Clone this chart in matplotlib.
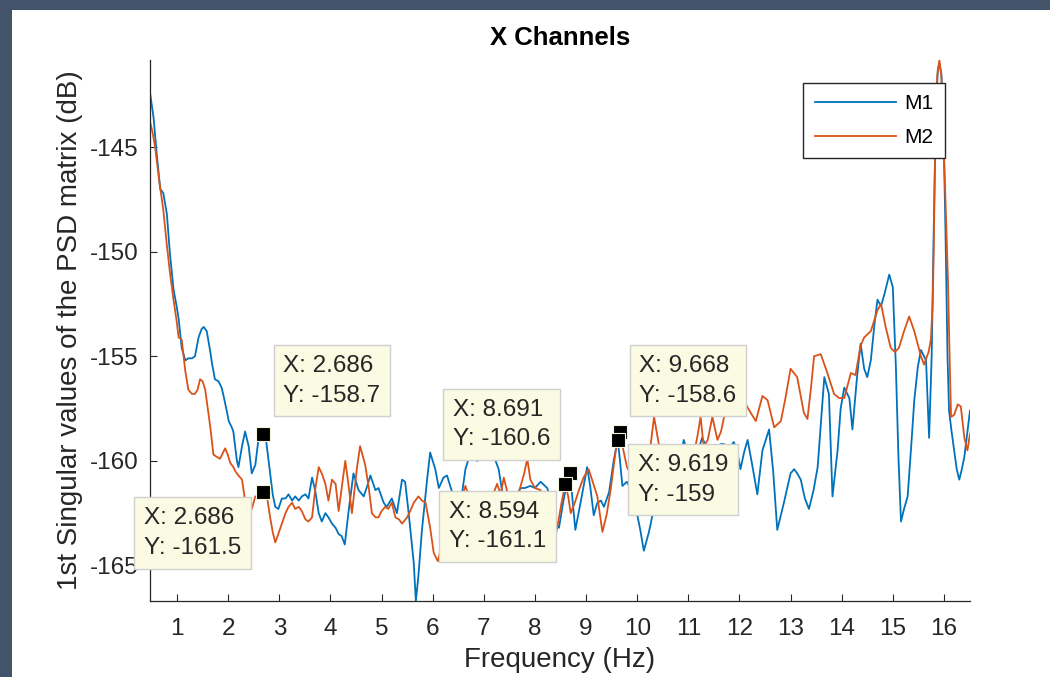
import matplotlib
matplotlib.use("Agg")
import matplotlib.pyplot as plt
from matplotlib.patches import Rectangle

plt.rcParams['font.family'] = ['Liberation Sans', 'DejaVu Sans']
plt.rcParams['axes.unicode_minus'] = False

# M1 (blue) - first singular value
m1_freq = [
    0.47, 0.54, 0.60, 0.67, 0.73, 0.80, 0.86, 0.93, 0.99, 1.03,
    1.09, 1.16, 1.22, 1.29, 1.35, 1.42, 1.48, 1.52, 1.58, 1.65,
    1.68, 1.74, 1.81, 1.87, 1.91, 1.97, 2.01, 2.07, 2.10, 2.14,
    2.17, 2.20, 2.27, 2.33, 2.40, 2.46, 2.53, 2.59, 2.64, 2.686,
    2.74, 2.82, 2.87, 2.92, 2.98, 3.05, 3.12, 3.18, 3.25, 3.31,
    3.38, 3.44, 3.51, 3.57, 3.64, 3.70, 3.77, 3.83, 3.90, 3.96,
    4.03, 4.10, 4.16, 4.22, 4.28, 4.35, 4.45, 4.55, 4.65, 4.72,
    4.78, 4.88, 4.94, 5.04, 5.10, 5.20, 5.30, 5.40, 5.46, 5.53,
    5.63, 5.67, 5.72, 5.79, 5.89, 5.95, 6.05, 6.12, 6.21, 6.28,
    6.38, 6.48, 6.56, 6.64, 6.74, 6.80, 6.87, 6.93, 7.00, 7.10,
    7.20, 7.29, 7.36, 7.42, 7.55, 7.65, 7.72, 7.80, 7.91, 8.00,
    8.11, 8.24, 8.30, 8.40, 8.47, 8.55, 8.63, 8.691, 8.74, 8.79,
    8.90, 9.02, 9.08, 9.15, 9.22, 9.29, 9.35, 9.45, 9.54, 9.619,
    9.66, 9.71, 9.80, 9.88, 9.97, 10.06, 10.13, 10.23, 10.35, 10.45,
    10.55, 10.64, 10.72, 10.85, 10.91, 11.01, 11.10, 11.18, 11.27, 11.33,
    11.40, 11.50, 11.57, 11.63, 11.70, 11.76, 11.83, 11.89, 11.96, 12.02,
    12.09, 12.16, 12.25, 12.35, 12.45, 12.58, 12.66, 12.74, 12.87, 13.00,
    13.07, 13.13, 13.20, 13.28, 13.36, 13.45, 13.53, 13.60, 13.66, 13.75,
    13.82, 13.92, 13.98, 14.05, 14.15, 14.21, 14.30, 14.37, 14.44, 14.50,
    14.57, 14.64, 14.70, 14.77, 14.84, 14.93, 15.00, 15.06, 15.11, 15.16,
    15.22, 15.29, 15.36, 15.42, 15.49, 15.55, 15.65, 15.71, 15.76, 15.80,
    15.84, 15.88, 15.91, 15.95, 15.99, 16.03, 16.07, 16.10, 16.15, 16.20,
    16.25, 16.30, 16.35, 16.40, 16.46, 16.51]
m1_db = [
    -142.4, -143.6, -145.3, -147.0, -147.2, -148.2, -150.1, -151.8, -152.6, -153.2,
    -154.6, -155.2, -155.1, -155.1, -155.0, -154.1, -153.7, -153.6, -153.8, -154.8,
    -155.3, -156.1, -156.2, -156.5, -156.9, -157.6, -158.1, -158.4, -158.6, -159.4,
    -160.0, -160.3, -159.3, -158.6, -159.3, -160.6, -160.2, -159.0, -158.8, -158.7,
    -159.0, -160.6, -161.6, -162.2, -162.3, -161.8, -161.8, -161.6, -161.9, -161.7,
    -161.9, -161.7, -161.6, -161.8, -160.8, -161.4, -162.5, -162.9, -162.5, -162.7,
    -163.0, -163.2, -163.5, -163.6, -164.0, -162.5, -160.6, -161.4, -161.7, -161.2,
    -160.7, -161.4, -161.3, -162.0, -162.2, -161.8, -162.5, -160.9, -161.0, -162.5,
    -164.9, -166.7, -165.5, -163.3, -160.9, -159.6, -160.4, -161.3, -160.8, -160.7,
    -161.5, -162.1, -161.8, -160.4, -159.6, -159.9, -160.0, -159.9, -159.7, -159.9,
    -159.8, -160.4, -161.5, -161.9, -162.1, -161.6, -161.3, -161.3, -161.2, -161.3,
    -161.0, -161.3, -161.8, -162.9, -163.2, -162.0, -161.0, -160.6, -162.0, -163.3,
    -161.9, -160.3, -161.2, -162.6, -162.0, -161.9, -162.2, -161.5, -160.0, -159.0,
    -159.9, -161.2, -161.0, -161.4, -162.2, -163.3, -164.3, -163.4, -162.0, -160.8,
    -160.6, -161.3, -161.5, -159.8, -159.0, -159.8, -160.2, -159.6, -158.9, -159.2,
    -159.4, -159.3, -159.4, -159.2, -159.2, -159.4, -159.3, -159.1, -159.6, -160.4,
    -159.6, -159.0, -160.2, -161.6, -159.5, -158.5, -160.5, -163.3, -162.0, -160.6,
    -160.4, -160.6, -160.9, -161.8, -162.3, -161.4, -160.3, -158.0, -156.0, -156.8,
    -161.7, -159.5, -157.5, -156.5, -157.0, -158.5, -156.0, -154.4, -155.6, -156.0,
    -155.2, -153.5, -152.3, -152.6, -152.0, -151.1, -151.7, -155.5, -159.8, -162.9,
    -162.3, -161.7, -159.3, -157.1, -155.5, -154.7, -155.2, -158.9, -155.0, -149.0,
    -143.5, -141.3, -141.0, -141.5, -144.0, -149.0, -155.0, -157.6, -158.6, -159.5,
    -160.4, -160.9, -160.4, -159.8, -158.6, -157.6]

# M2 (orange)
m2_freq = [
    0.47, 0.52, 0.57, 0.65, 0.73, 0.80, 0.86, 0.93, 0.99, 1.03,
    1.09, 1.16, 1.22, 1.29, 1.35, 1.40, 1.45, 1.50, 1.55, 1.60,
    1.65, 1.71, 1.77, 1.84, 1.90, 1.94, 1.99, 2.04, 2.10, 2.14,
    2.20, 2.27, 2.33, 2.40, 2.46, 2.53, 2.59, 2.625, 2.686, 2.72,
    2.77, 2.82, 2.87, 2.92, 2.98, 3.05, 3.12, 3.18, 3.25, 3.31,
    3.38, 3.44, 3.51, 3.57, 3.64, 3.70, 3.77, 3.83, 3.90, 3.96,
    4.03, 4.10, 4.16, 4.22, 4.29, 4.35, 4.42, 4.52, 4.58, 4.68,
    4.75, 4.81, 4.88, 4.94, 5.00, 5.07, 5.13, 5.20, 5.27, 5.34,
    5.40, 5.50, 5.56, 5.63, 5.72, 5.79, 5.86, 5.95, 6.02, 6.10,
    6.20, 6.30, 6.40, 6.50, 6.56, 6.64, 6.72, 6.82, 6.95, 7.05,
    7.15, 7.26, 7.33, 7.39, 7.47, 7.55, 7.65, 7.72, 7.79, 7.85,
    7.91, 8.00, 8.11, 8.20, 8.30, 8.37, 8.45, 8.52, 8.594, 8.65,
    8.70, 8.78, 8.86, 8.95, 9.05, 9.13, 9.22, 9.32, 9.40, 9.48,
    9.58, 9.668, 9.73, 9.80, 9.93, 10.05, 10.15, 10.25, 10.33, 10.43,
    10.52, 10.65, 10.80, 10.95, 11.10, 11.18, 11.24, 11.30, 11.38, 11.47,
    11.57, 11.64, 11.70, 11.80, 11.95, 12.10, 12.22, 12.32, 12.45, 12.55,
    12.68, 12.81, 12.90, 13.00, 13.13, 13.26, 13.33, 13.40, 13.46, 13.59,
    13.72, 13.85, 13.95, 14.05, 14.18, 14.27, 14.37, 14.44, 14.57, 14.70,
    14.77, 14.86, 14.96, 15.04, 15.12, 15.22, 15.32, 15.42, 15.55, 15.61,
    15.70, 15.745, 15.78, 15.80, 15.83, 15.87, 15.91, 15.95, 15.99, 16.03,
    16.08, 16.12, 16.14, 16.20, 16.27, 16.33, 16.40, 16.46, 16.51]
m2_db = [
    -143.8, -144.3, -145.0, -146.6, -148.0, -149.7, -151.0, -152.3, -153.3, -154.1,
    -154.2, -155.7, -156.6, -156.8, -156.8, -156.6, -156.1, -156.2, -156.6, -157.5,
    -158.4, -159.7, -159.8, -159.9, -159.6, -159.4, -159.7, -160.1, -160.3, -160.5,
    -160.7, -160.9, -161.9, -162.0, -162.3, -161.7, -161.7, -161.6, -161.5, -161.4,
    -161.9, -162.7, -163.4, -163.9, -163.5, -163.0, -162.5, -162.2, -162.0, -162.3,
    -162.2, -162.4, -162.8, -162.9, -162.7, -161.4, -160.3, -160.6, -161.1, -161.9,
    -160.9, -161.1, -162.4, -161.3, -160.0, -161.1, -162.5, -160.3, -159.3, -160.2,
    -161.3, -162.5, -162.7, -162.7, -162.4, -162.2, -162.3, -162.0, -162.7, -162.8,
    -163.0, -162.7, -162.4, -162.0, -161.7, -161.9, -162.0, -163.2, -164.4, -164.8,
    -163.8, -162.6, -162.2, -162.0, -161.8, -161.2, -161.8, -162.4, -162.0, -162.3,
    -161.8, -161.1, -161.6, -160.8, -161.6, -162.0, -161.8, -161.2, -160.6, -159.9,
    -160.9, -161.3, -161.4, -162.2, -163.4, -164.0, -163.0, -162.0, -161.1, -161.7,
    -162.5, -162.0, -161.4, -160.8, -160.4, -161.0, -161.7, -163.4, -162.6, -161.4,
    -159.5, -158.6, -159.5, -160.3, -160.9, -161.5, -160.8, -159.5, -157.9, -159.3,
    -160.6, -161.0, -160.3, -160.8, -159.8, -158.8, -157.9, -159.3, -159.0, -157.9,
    -159.0, -158.6, -157.9, -157.0, -156.8, -157.2, -157.7, -158.1, -156.9, -157.1,
    -158.4, -158.1, -157.0, -155.6, -156.0, -157.7, -158.0, -156.5, -155.0, -154.9,
    -155.8, -156.8, -157.0, -157.0, -155.8, -155.9, -154.5, -154.1, -153.8, -152.8,
    -152.5, -153.6, -154.6, -154.8, -154.6, -153.8, -153.1, -153.8, -155.0, -155.4,
    -154.8, -154.2, -152.5, -150.0, -145.0, -141.6, -140.84, -141.6, -144.5, -147.5,
    -151.5, -156.0, -157.9, -157.8, -157.3, -157.4, -158.9, -159.5, -158.7]

# data tips
tip_freq = [2.686, 2.686, 8.691, 8.594, 9.668, 9.619]
tip_db = [-158.7, -161.5, -160.6, -161.1, -158.6, -159.0]
# offset of the tip text from its marker (points) and text anchor
tip_offset = [(14.4, 19.4), (-15.8, -10.8), (-14.4, 16.6), (-13.7, -12.2), (13.7, 18.0), (14.4, -10.1)]
tip_align = [('left', 'bottom'), ('right', 'top'), ('right', 'bottom'),
             ('right', 'top'), ('left', 'bottom'), ('left', 'top')]

xticks = list(range(1, 17))
yticks = [-165, -160, -155, -150, -145]

fig = plt.figure(figsize=(10.5, 6.77), dpi=100, facecolor='#435369')
fig.patches.append(Rectangle((12 / 1050, 0), 1, 667 / 677, transform=fig.transFigure,
                             facecolor='white', edgecolor='none', zorder=-10))
ax = fig.add_axes([150 / 1050, 76 / 677, 820 / 1050, 541 / 677])

ax.plot(m1_freq, m1_db, color='#0072BD', lw=1.3, label='M1')
ax.plot(m2_freq, m2_db, color='#D95319', lw=1.3, label='M2')

ax.set_xlim(min(m1_freq + m2_freq), max(m1_freq + m2_freq))
ax.set_ylim(min(m1_db + m2_db), max(m1_db + m2_db))
ax.set_xticks(xticks)
ax.set_yticks(yticks)

for s in ['top', 'right']:
    ax.spines[s].set_visible(False)
for s in ['left', 'bottom']:
    ax.spines[s].set_color('#262626')
    ax.spines[s].set_linewidth(0.9)
ax.tick_params(direction='in', length=5, width=0.8, colors='#262626', labelsize=17.5)
ax.tick_params(axis='x', pad=12)
ax.tick_params(axis='y', pad=8)

ax.set_title('X Channels', fontsize=18.5, fontweight='bold', pad=11)
ax.set_xlabel('Frequency (Hz)', fontsize=20, color='#262626', labelpad=5)
ax.set_ylabel('1st Singular values of the PSD matrix (dB)', fontsize=20, color='#262626', labelpad=5)

leg = ax.legend(loc='upper right', bbox_to_anchor=(0.9695, 0.9575), borderaxespad=0,
                fontsize=15, fancybox=False, edgecolor='#262626', framealpha=1,
                handlelength=3.9, handletextpad=0.4, labelspacing=0.7, borderpad=0.55)
leg.get_frame().set_linewidth(1.0)

ax.plot(tip_freq, tip_db, 's', ms=10.5, mfc='black', mec='#f5f5dc', mew=0.8,
        zorder=6, clip_on=False)
for f, d, off, (ha, va) in zip(tip_freq, tip_db, tip_offset, tip_align):
    ax.annotate('X: {:g}\nY: {:g}'.format(f, d), xy=(f, d), xytext=off,
                textcoords='offset points', ha=ha, va=va, multialignment='left',
                fontsize=17.5, color='#262626', linespacing=1.45, zorder=7,
                annotation_clip=False,
                bbox=dict(boxstyle='square,pad=0.4', fc='#fbfbe3', ec='#cfcfcf', lw=1))

fig.savefig('out.png', dpi=100, facecolor=fig.get_facecolor())
